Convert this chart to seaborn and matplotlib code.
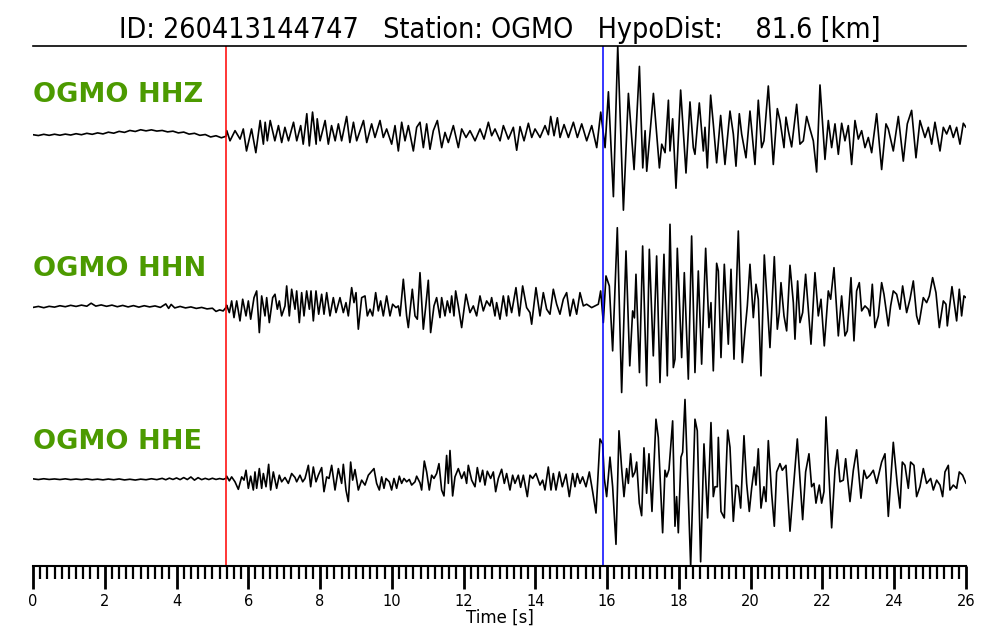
"""Three-component seismogram with P and S picks."""

import matplotlib.pyplot as plt
import numpy as np
import seaborn as sns
from matplotlib.ticker import MultipleLocator

# Event / station info
event_id = "260413144747"
station = "OGMO"
hypo_dist_km = 81.6
channels = ["HHZ", "HHN", "HHE"]
p_pick = 5.37   # s
s_pick = 15.88  # s

# (time [s], amplitude [counts])
hhz = [
    (0.00, -2.0), (0.15, -2.8), (0.30, -1.6), (0.45, -2.6), (0.60, -1.5), (0.75, -2.5), (0.90, -1.4),
    (1.05, -2.3), (1.20, -1.0), (1.35, -2.0), (1.50, -0.6), (1.65, -1.6), (1.80, -0.2), (1.95, -1.2),
    (2.10, 0.5), (2.25, -0.5), (2.40, 1.3), (2.55, 0.3), (2.70, 2.2), (2.85, 1.2), (3.00, 2.9),
    (3.15, 1.8), (3.30, 2.8), (3.45, 1.6), (3.60, 2.2), (3.75, 0.8), (3.90, 1.5), (4.05, -0.2),
    (4.20, 0.6), (4.35, -1.4), (4.50, -0.6), (4.65, -2.6), (4.80, -1.8), (4.95, -4.2), (5.10, -3.0),
    (5.25, -5.0), (5.38, -3.5),
    (5.40, 2.0), (5.49, -8.0), (5.63, 2.0), (5.77, -6.3), (5.86, 3.7), (5.95, -18.0), (6.09, 3.7),
    (6.21, -19.7), (6.33, 12.0), (6.42, -11.3), (6.47, 10.3), (6.53, -8.0), (6.61, 12.0), (6.74, -8.0),
    (6.84, 7.0), (6.93, -9.7), (7.02, 5.3), (7.12, -8.0), (7.26, 10.3), (7.35, -8.0), (7.46, 7.0),
    (7.53, -11.3), (7.63, 18.7), (7.70, -13.0), (7.79, 20.3), (7.89, -11.3), (7.92, 13.7), (8.00, -8.0),
    (8.14, 12.0), (8.23, -11.3), (8.32, 7.0), (8.42, -8.0), (8.51, 8.7), (8.60, -8.0), (8.74, 16.0),
    (8.83, -9.7), (8.93, 10.3), (9.02, -8.0), (9.21, 12.0), (9.30, -9.7),
    (9.437, 8.7), (9.530, -4.7), (9.670, 12.0), (9.762, -4.7), (9.855, 3.7), (9.995, -11.3),
    (10.088, 7.0), (10.181, -18.0), (10.274, 10.3), (10.367, -8.0), (10.460, 7.0), (10.599, -18.0),
    (10.692, 5.3), (10.785, 10.3), (10.878, -14.7), (10.970, 8.7), (11.063, -16.3), (11.156, 2.0),
    (11.268, 12.0), (11.389, -14.7), (11.481, 0.3), (11.574, -9.7), (11.714, 7.0), (11.853, -14.7),
    (11.946, 3.7), (12.067, -4.7), (12.178, 2.0), (12.318, -8.0), (12.457, 3.7), (12.569, -6.3),
    (12.690, 10.3), (12.782, -3.0), (12.875, 3.7), (13.015, -8.0), (13.108, 7.0), (13.247, -6.3),
    (13.386, 5.3), (13.479, -17.3), (13.572, 6.0), (13.684, -8.0), (13.805, 9.3), (13.898, -4.7),
    (13.990, 3.7), (14.130, -4.7), (14.269, 7.0), (14.362, -2.0), (14.427, 16.0), (14.520, -3.0),
    (14.613, 14.7), (14.687, -4.7), (14.799, 8.0), (14.920, -4.7), (15.059, 10.3), (15.170, -4.7),
    (15.291, 8.7), (15.430, -8.0), (15.570, 7.0), (15.709, -14.7), (15.821, 20.3), (15.942, -14.7),
    (16.035, 40.3), (16.174, -63.0), (16.295, 85.3), (16.453, -76.3), (16.592, 38.7), (16.750, -36.3),
    (16.899, 65.3), (16.992, -34.7), (17.057, 2.0), (17.103, -38.0), (17.289, 38.7), (17.456, -34.7),
    (17.521, -11.3), (17.614, -19.7), (17.707, 32.0),
    (17.751, -18.0), (17.825, 13.7), (17.918, -54.7), (18.048, 42.0), (18.197, -39.7), (18.308, 30.3),
    (18.401, -14.7), (18.447, -21.3), (18.568, 29.3), (18.680, -18.0), (18.726, 5.3), (18.791, -34.7),
    (18.884, 37.0), (18.958, 8.7), (19.051, -29.7), (19.163, 17.0), (19.283, -31.3), (19.423, 21.3),
    (19.516, -1.3), (19.590, -33.0), (19.683, 18.7), (19.748, -1.3), (19.869, -24.7), (19.980, 21.3),
    (20.119, -31.3), (20.212, 32.0), (20.305, -14.7), (20.370, -8.0), (20.491, 46.0), (20.630, -31.3),
    (20.742, 23.7), (20.816, 12.0), (20.928, -14.7), (20.983, 15.3), (21.048, 2.0), (21.141, -14.0),
    (21.281, 28.0), (21.373, -11.3), (21.466, -8.0), (21.559, 16.0), (21.652, 3.7), (21.745, -8.0),
    (21.838, -38.7), (21.931, 47.0), (22.070, -26.3), (22.163, 12.0), (22.256, -14.7), (22.349, 8.7),
    (22.442, -21.3), (22.535, 9.3), (22.627, -8.0), (22.720, 7.0), (22.813, -31.3), (22.906, 12.0),
    (22.999, -6.3), (23.092, 2.0), (23.185, -14.7), (23.278, -4.7), (23.371, -19.7), (23.510, 18.7),
    (23.649, -36.3), (23.770, 8.7), (23.835, 3.7), (23.974, -18.0), (24.114, 16.0), (24.253, -28.0),
    (24.364, 8.7), (24.485, 22.0), (24.606, -24.7), (24.717, 12.0), (24.857, -4.7), (24.950, 5.3),
    (25.043, -11.3), (25.135, 10.3), (25.275, -18.0), (25.368, 5.3), (25.461, -1.3), (25.553, 7.0),
    (25.646, -4.7), (25.739, 5.3), (25.832, -11.3), (25.925, 9.3), (26.000, 5.3),
]

hhn = [
    (0.00, -1.5), (0.15, -0.5), (0.30, -1.8), (0.45, -0.4), (0.60, -1.2), (0.75, 0.2), (0.90, -0.8),
    (1.05, 0.6), (1.20, -0.5), (1.35, 0.8), (1.50, -0.3), (1.62, 2.7), (1.75, -0.2), (1.90, 1.0),
    (2.05, -0.4), (2.20, 0.8), (2.35, -0.8), (2.50, 0.5), (2.65, -1.0), (2.80, 0.3), (2.95, -1.2),
    (3.10, 0.2), (3.25, -1.0), (3.40, 0.0), (3.55, -1.5), (3.70, 2.0), (3.78, -2.5), (3.85, 1.5),
    (3.95, -2.0), (4.10, -0.5), (4.25, -2.0), (4.40, -1.0), (4.55, -2.5), (4.70, -1.5), (4.85, -3.0),
    (5.00, -2.3), (5.10, -5.5), (5.20, -4.0), (5.30, -5.0), (5.38, -1.5),
    (5.397, 0.7), (5.471, -6.7), (5.536, 5.0), (5.601, -11.7), (5.676, 5.0), (5.768, -15.0),
    (5.843, 6.7), (5.936, -10.0), (6.001, 5.0), (6.066, -13.3), (6.159, 8.3), (6.233, 15.0),
    (6.307, -26.7), (6.372, 10.0), (6.465, -10.0), (6.512, 8.3), (6.586, -16.7), (6.679, 8.3),
    (6.744, 11.7), (6.809, -3.3), (6.864, 5.0), (6.929, -10.0), (7.022, 0.0), (7.069, 20.0),
    (7.143, -10.0), (7.208, 16.7), (7.301, -3.3), (7.348, 15.0), (7.422, -16.7), (7.487, 13.3),
    (7.552, -10.0), (7.626, 15.0), (7.701, -3.3), (7.747, 15.0), (7.812, -15.0), (7.886, 15.0),
    (7.961, -8.3), (8.044, 11.7), (8.109, -8.3), (8.184, 13.3), (8.276, -10.0), (8.369, 8.3),
    (8.444, -6.7), (8.555, 8.3), (8.648, -6.7), (8.722, 3.3), (8.787, -10.0), (8.880, 18.3),
    (8.945, 3.3), (9.001, 13.3), (9.066, -23.3), (9.159, 8.3), (9.252, 10.0), (9.317, -10.0),
    (9.391, -3.3), (9.465, -10.0), (9.549, 13.3), (9.623, -5.0), (9.688, 5.0), (9.762, -10.0),
    (9.855, 10.0), (9.948, -10.0), (10.022, 1.7), (10.115, -1.7), (10.180, 0.0), (10.227, -10.0),
    (10.320, 26.7), (10.412, -10.0), (10.459, -21.7), (10.570, 16.7), (10.645, -10.0), (10.710, -13.3),
    (10.784, 33.3), (10.877, -23.3), (10.951, 1.7), (11.016, 25.7), (11.081, -26.7), (11.174, 0.0),
    (11.248, 8.3), (11.341, -11.7), (11.388, 8.3), (11.481, -10.0), (11.546, 5.0), (11.620, -6.7),
    (11.667, 10.0), (11.731, -10.0), (11.778, 15.0), (11.852, 0.0), (11.945, -21.7), (12.066, 11.7),
    (12.177, -6.7), (12.270, 0.0), (12.363, -10.0), (12.456, 10.0), (12.549, -5.0), (12.642, 5.0),
    (12.735, 0.0), (12.781, 8.3), (12.874, -10.0), (12.920, 3.3), (13.013, -13.3), (13.106, 10.0),
    (13.199, -10.0), (13.245, 10.0), (13.338, -6.7), (13.459, 18.3), (13.552, -10.0), (13.645, 20.0),
    (13.756, -1.7), (13.849, -6.7), (13.896, -18.3), (14.016, 18.3), (14.128, -10.0), (14.221, 13.3),
    (14.314, -3.3), (14.407, -8.3), (14.500, 16.7), (14.593, 1.7), (14.685, -8.3), (14.778, 6.7),
    (14.871, 13.3), (14.964, -10.0), (15.057, 6.7), (15.150, -8.3), (15.243, 13.3), (15.336, 0.0),
    (15.429, 1.7), (15.568, -1.7), (15.661, 0.0), (15.754, 1.7), (15.819, 15.0), (15.893, -16.7),
    (15.967, 30.0), (16.060, 20.0), (16.153, -45.0), (16.283, 78.3), (16.404, -86.7), (16.525, 55.0),
    (16.630, -60.0), (16.710, -5.0), (16.760, -12.0), (16.803, 31.7), (16.900, -66.7), (16.989, 60.0),
    (17.100, -80.0), (17.175, 56.7), (17.286, -50.0), (17.379, 50.0), (17.472, -76.7), (17.583, 51.7),
    (17.676, -70.0), (17.751, 81.7),
    (17.844, -61.7), (17.890, -53.3), (17.955, 57.7), (18.076, -51.7), (18.150, 33.3), (18.262, -73.3),
    (18.354, 70.0), (18.447, -66.7), (18.540, 35.0), (18.633, -58.3), (18.745, 57.7), (18.837, -21.7),
    (18.893, 3.3), (18.958, -65.0), (19.051, 42.7), (19.098, 35.0), (19.172, -51.7), (19.265, 41.7),
    (19.376, -38.3), (19.451, 36.7), (19.534, -53.3), (19.655, 75.0), (19.766, -56.7), (19.841, -25.0),
    (19.906, 0.0), (19.980, 41.7), (20.073, -11.7), (20.147, 21.7), (20.212, 6.7), (20.287, -70.0),
    (20.379, 51.0), (20.537, -41.7), (20.658, 49.3), (20.742, -23.3), (20.797, -6.7), (20.844, 23.3),
    (20.928, -10.0), (21.002, -25.0), (21.095, 40.7), (21.188, 3.3), (21.234, -33.3), (21.308, 25.0),
    (21.373, -16.7), (21.448, -6.7), (21.531, 31.7), (21.680, -38.3), (21.791, 33.3), (21.884, -10.0),
    (21.959, 6.7), (22.051, -40.0), (22.163, 15.0), (22.228, 6.7), (22.321, 38.3), (22.442, -30.0),
    (22.534, 10.0), (22.627, -30.0), (22.692, -25.0), (22.795, 28.3), (22.878, -35.0), (22.952, 15.0),
    (23.027, 23.3), (23.092, -5.0), (23.185, 0.0), (23.277, -3.3), (23.324, -10.0), (23.389, 21.7),
    (23.463, -21.7), (23.556, -10.0), (23.649, 23.3), (23.714, 11.7), (23.835, -20.0), (23.900, 0.0),
    (23.974, 15.0), (24.067, 11.7), (24.160, -3.3), (24.234, 20.0), (24.346, -6.7), (24.439, 6.7),
    (24.532, 25.0), (24.624, -10.0), (24.689, -18.3), (24.810, 8.3), (24.903, 3.3), (24.978, 10.0),
    (25.070, 28.3), (25.163, 13.3), (25.256, -21.7), (25.368, 5.0), (25.442, 1.7), (25.479, -20.0),
    (25.609, 19.3), (25.739, -15.0), (25.813, 16.7), (25.878, -10.0), (25.943, 10.0), (26.000, 8.3),
]

hhe = [
    (0.00, 0.3), (0.15, -0.4), (0.30, 0.4), (0.45, -0.3), (0.60, 0.2), (0.75, -0.4), (0.90, 0.3),
    (1.05, -0.5), (1.20, 0.1), (1.35, -0.5), (1.50, 0.2), (1.65, -0.6), (1.80, 0.0), (1.95, -0.7),
    (2.10, 0.1), (2.25, -0.6), (2.40, 0.2), (2.55, -0.8), (2.70, -0.1), (2.85, -0.9), (3.00, 0.0),
    (3.15, -0.6), (3.30, 0.4), (3.45, -0.5), (3.60, 0.8), (3.70, -0.6), (3.80, 1.0), (3.90, -0.3),
    (4.00, 1.2), (4.10, -0.5), (4.20, 1.6), (4.30, -0.4), (4.40, 2.2), (4.50, -1.0), (4.60, 1.5),
    (4.70, -0.5), (4.80, 0.8), (4.90, -0.4), (5.00, 0.9), (5.10, -0.3), (5.20, 0.6), (5.30, -0.2),
    (5.38, 0.8),
    (5.397, 3.0), (5.471, -1.7), (5.536, 2.3), (5.629, -2.7), (5.722, -10.3), (5.815, 2.3),
    (5.880, -1.0), (5.936, 9.0), (6.001, -9.3), (6.066, 3.0), (6.140, -11.0), (6.186, 7.3),
    (6.233, -9.3), (6.307, 10.7), (6.372, -9.3), (6.419, 5.7), (6.493, -7.7), (6.567, 15.0),
    (6.623, -11.0), (6.697, 7.3), (6.790, -9.3), (6.864, 4.0), (6.929, -2.7), (7.022, 1.7),
    (7.115, -4.3), (7.208, 5.7), (7.301, 1.7), (7.348, -2.7), (7.440, 4.0), (7.515, -2.7),
    (7.580, 0.7), (7.673, 14.0), (7.738, -7.7), (7.812, 12.3), (7.886, -2.7), (7.951, 4.0),
    (8.044, 11.7), (8.109, -12.7), (8.184, 2.3), (8.249, 0.7), (8.323, 14.0), (8.416, -11.0),
    (8.509, 10.7), (8.601, -4.3), (8.648, 15.0), (8.722, -11.0), (8.787, -22.7), (8.852, 17.3),
    (8.908, -1.0), (8.973, 9.7), (9.066, -11.0), (9.159, -1.0), (9.252, -6.0), (9.345, 4.0),
    (9.502, 10.7), (9.576, -4.3), (9.651, -11.0), (9.716, 2.3), (9.781, -9.3), (9.837, 0.7),
    (9.929, -2.7), (9.994, -11.0), (10.059, 0.7), (10.134, -9.3), (10.208, 3.0), (10.273, -4.3),
    (10.338, 0.7), (10.412, -2.7), (10.487, -0.3), (10.552, -6.0), (10.645, -2.7), (10.691, 3.0),
    (10.784, -3.7), (10.830, -11.0), (10.905, 18.3), (10.970, 7.3), (11.044, -11.0), (11.109, 4.0),
    (11.174, 0.7), (11.248, 5.7), (11.313, 15.7), (11.388, -11.0), (11.453, -17.0), (11.527, 24.0),
    (11.574, -4.3), (11.620, 29.0), (11.694, -17.0), (11.759, 2.3), (11.852, 10.7), (11.945, 0.7),
    (12.019, 7.3), (12.084, -4.3), (12.131, 14.0), (12.224, -1.0), (12.317, -7.7), (12.382, 11.7),
    (12.456, -2.7), (12.530, 9.0), (12.595, -6.0), (12.660, 8.0), (12.753, 0.7), (12.828, 7.3),
    (12.893, -12.7), (12.967, 0.7), (13.060, 10.0), (13.134, -4.3), (13.199, 5.7), (13.292, -11.0),
    (13.366, 4.0), (13.431, -4.3), (13.524, 4.0), (13.589, -8.3), (13.664, 4.0), (13.775, -17.7),
    (13.849, 4.0), (13.924, 0.7), (14.016, 5.7), (14.128, -6.0), (14.202, -1.0), (14.267, -11.0),
    (14.360, 12.3), (14.435, -11.0), (14.500, 5.7), (14.574, -11.0), (14.667, 7.3), (14.750, -7.7),
    (14.853, 5.0), (14.945, -17.7), (15.038, 5.7), (15.103, -7.7), (15.168, 5.7), (15.243, -4.3),
    (15.317, 2.3), (15.410, -7.7), (15.503, 7.3), (15.596, -12.7), (15.689, -34.3), (15.800, 40.7),
    (15.874, 35.7), (15.921, 0.7), (15.986, -17.7), (16.079, 22.3), (16.153, -7.7), (16.246, -66.0),
    (16.330, 49.0), (16.404, 10.7), (16.469, -17.7), (16.543, 10.7), (16.590, -4.3), (16.654, 25.7),
    (16.710, 2.3), (16.775, 7.3), (16.822, 17.3), (16.896, -24.3), (16.961, -37.0), (17.026, 31.7),
    (17.100, -14.3), (17.165, 25.7), (17.249, -32.7), (17.360, 60.7), (17.425, 42.3), (17.546, -54.3),
    (17.611, 9.0), (17.658, 2.3), (17.723, 9.7), (17.825, 59.0), (17.890, -47.7), (17.936, -17.7),
    (17.983, -54.3), (18.057, 22.3), (18.104, 27.3), (18.169, 80.7), (18.327, -87.7), (18.447, 60.7),
    (18.512, 49.0), (18.605, -83.7), (18.698, 35.7), (18.800, -39.3), (18.893, 57.3), (18.958, -17.7),
    (19.005, -7.7), (19.070, -7.7), (19.098, 42.3), (19.172, -32.7), (19.265, -39.3), (19.358, 49.7),
    (19.423, 32.3), (19.516, -42.7), (19.590, -6.0), (19.655, -7.7), (19.720, -29.3), (19.813, 44.0),
    (19.887, -4.3), (19.961, -32.7), (20.026, -9.3), (20.101, 12.3), (20.147, -6.0), (20.212, 30.7),
    (20.287, -29.3), (20.370, -7.7), (20.426, -22.7), (20.491, 39.0), (20.584, -14.3), (20.658, -47.7),
    (20.723, 7.3), (20.816, 15.7), (20.881, 9.0), (20.983, 14.0), (21.095, -52.7), (21.299, 40.7),
    (21.448, -41.0), (21.531, 7.3), (21.624, 25.7), (21.698, -7.7), (21.763, -4.3), (21.819, -24.3),
    (21.912, -6.0), (21.977, -24.3), (22.042, -12.7), (22.098, 63.0), (22.256, -49.3), (22.349, 9.0),
    (22.414, 29.7), (22.488, -2.7), (22.581, -1.0), (22.646, 20.7), (22.767, -22.7), (22.860, 9.0),
    (22.952, 29.7), (23.073, -19.3), (23.157, 9.0), (23.231, 0.7), (23.324, 4.0), (23.417, 9.0),
    (23.510, -4.3), (23.649, 17.3), (23.742, 25.7), (23.835, -37.7), (23.974, 37.3), (24.086, -6.0),
    (24.160, -29.3), (24.225, 17.3), (24.299, 14.0), (24.392, -9.3), (24.457, 17.3), (24.550, 14.0),
    (24.624, -17.7), (24.717, -7.7), (24.810, 10.7), (24.903, -4.3), (25.015, 0.7), (25.089, -11.0),
    (25.182, -1.0), (25.275, -6.0), (25.349, -17.7), (25.414, 7.3), (25.507, 14.0), (25.553, -11.0),
    (25.646, -6.0), (25.739, -9.3), (25.813, 7.3), (25.906, 4.0), (26.000, -4.3),
]

traces = [hhz, hhn, hhe]

sns.set_style("white")
plt.rcParams["font.family"] = ["DejaVu Sans"]
plt.rcParams["text.color"] = "black"
plt.rcParams["axes.labelcolor"] = "black"
plt.rcParams["xtick.color"] = "black"
plt.rcParams["axes.edgecolor"] = "black"

fig = plt.figure(figsize=(10, 6.4), dpi=100)
ax = fig.add_axes([0.033, 0.116, 0.933, 0.812])

n = len(traces)
for i, (chan, tr) in enumerate(zip(channels, traces)):
    t = np.array([p[0] for p in tr])
    a = np.array([p[1] for p in tr])
    offset = n - 1 - i
    y = offset + 0.5 * a / np.abs(a).max()
    sns.lineplot(x=t, y=y, ax=ax, color="black", linewidth=1.2, sort=False,
                 estimator=None)
    ax.text(0, offset + 0.175, f"{station} {chan}", color="#4c9a00",
            fontsize=19.5, fontweight="bold", ha="left", va="baseline")

ax.axvline(p_pick, color="red", linewidth=1.1)
ax.axvline(s_pick, color="blue", linewidth=1.1)

ax.set_xlim(0, 26)
ax.set_ylim(-0.5, n - 0.5)
ax.set_yticks([])
ax.set_ylabel("")
ax.xaxis.set_major_locator(MultipleLocator(2))
ax.xaxis.set_minor_locator(MultipleLocator(0.2))
ax.tick_params(axis="x", which="major", length=16.5, width=2, pad=4,
               labelsize=10.5, bottom=True, direction="out", colors="black")
ax.tick_params(axis="x", which="minor", length=9.5, width=1.6,
               bottom=True, direction="out", colors="black")
ax.set_xlabel("Time [s]", fontsize=12, labelpad=0)

for side in ["left", "right"]:
    ax.spines[side].set_visible(False)
ax.spines["top"].set_linewidth(1.2)
ax.spines["bottom"].set_linewidth(1.5)

ax.set_title(f"ID: {event_id}   Station: {station}   HypoDist:    {hypo_dist_km:.1f} [km]",
             fontsize=20.5, fontstretch="condensed", pad=6, color="black")

fig.savefig("out.png", dpi=100)
